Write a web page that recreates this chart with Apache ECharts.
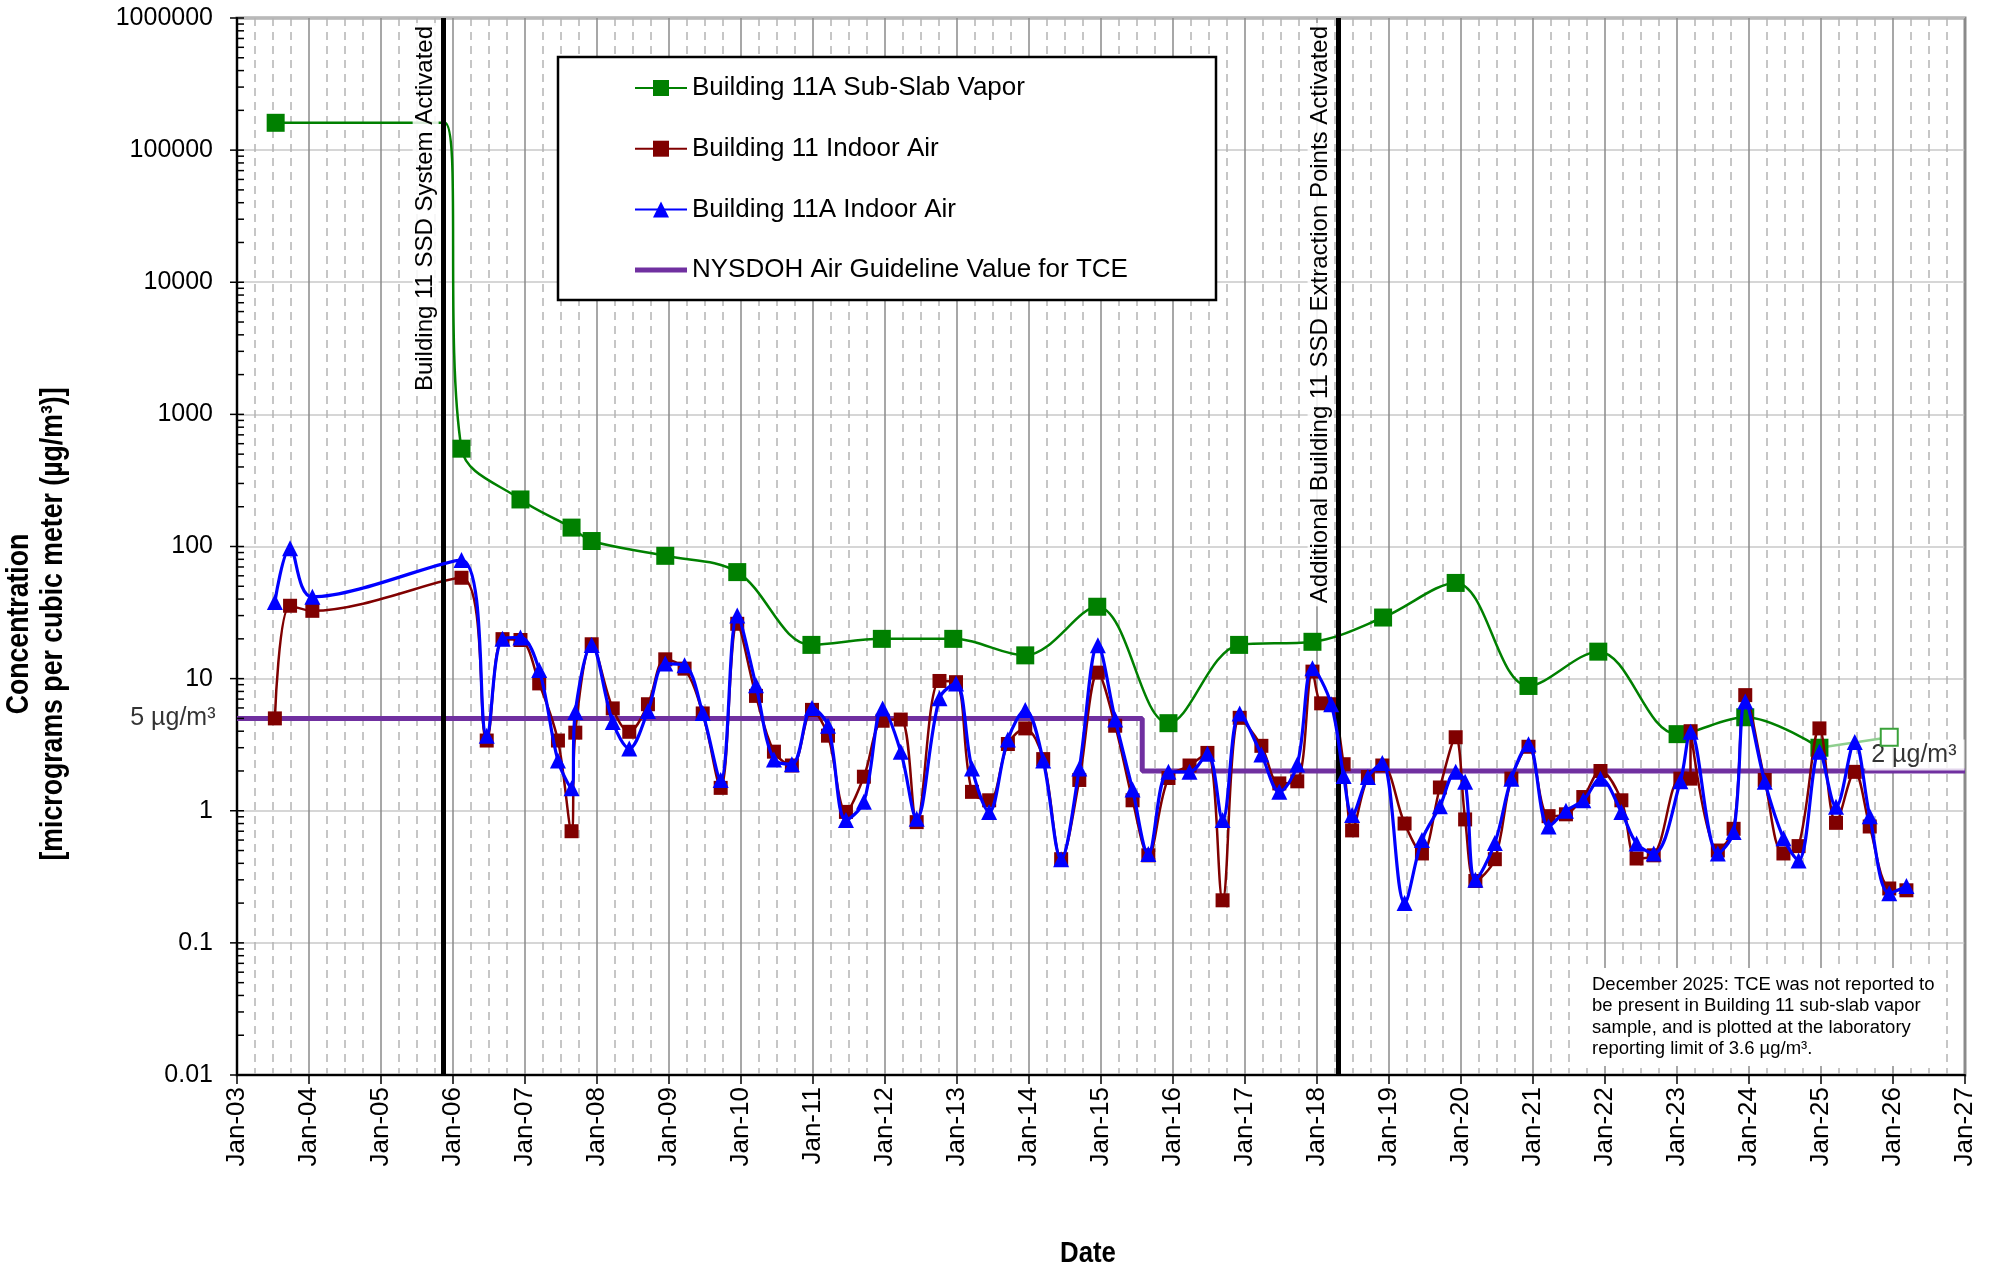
<!DOCTYPE html>
<html>
<head>
<meta charset="utf-8">
<script src="https://cdn.jsdelivr.net/npm/echarts@6/dist/echarts.min.js"></script>
<style>
html,body{margin:0;padding:0;background:#fff;}
#chart{width:1996px;height:1271px;}
</style>
</head>
<body>
<div id="chart"></div>
<script>
// ---------------- DATA ----------------
const seriesNames = ['Building 11A Sub-Slab Vapor', 'Building 11 Indoor Air', 'Building 11A Indoor Air', 'NYSDOH Air Guideline Value for TCE'];

// Building 11A sub-slab vapor (µg/m³)
const subSlabDates  = ['2003-07-16','2005-11-20','2006-02-13','2006-12-09','2007-08-25','2007-12-05','2008-12-13','2009-12-13','2010-12-24','2011-12-16','2012-12-13','2013-12-13','2014-12-13','2015-12-09','2016-12-02','2017-12-09','2018-12-02','2019-12-05','2020-12-09','2021-11-28','2023-01-04','2023-12-13','2024-12-24'];
const subSlabValues = [161000, 161000, 550, 227, 139, 110, 85, 64, 18, 20, 20, 15, 35, 4.6, 18, 19, 29, 53, 8.8, 16, 3.8, 5.1, 3.0];
const subSlabUnmarkedDates = ['2005-11-20'];
// December 2025 sample plotted at reporting limit
const subSlabEstimateDate = '2025-12-13';
const subSlabEstimateValue = 3.6;

// Indoor air sampling dates (shared)
const indoorDates = ['2003-07-12','2003-09-27','2004-01-18','2006-02-13','2006-06-21','2006-09-09','2006-12-09','2007-03-14','2007-06-17','2007-08-25','2007-09-13','2007-12-05',
 '2008-03-21','2008-06-13','2008-09-16','2008-12-13','2009-03-21','2009-06-21','2009-09-20','2009-12-13','2010-03-18','2010-06-17','2010-09-16','2010-12-27',
 '2011-03-18','2011-06-17','2011-09-16','2011-12-20','2012-03-21','2012-06-10','2012-10-04','2012-12-27','2013-03-18','2013-06-13','2013-09-16','2013-12-13',
 '2014-03-14','2014-06-13','2014-09-13','2014-12-16','2015-03-14','2015-06-10','2015-08-29','2015-12-09','2016-03-25','2016-06-24','2016-09-09','2016-12-05',
 '2017-03-25','2017-06-24','2017-09-23','2017-12-09','2018-01-22','2018-03-14','2018-05-16','2018-06-28','2018-09-16','2018-11-28','2019-03-21','2019-06-17',
 '2019-09-16','2019-12-05','2020-01-22','2020-03-14','2020-06-21','2020-09-13','2020-12-09','2021-03-21','2021-06-17','2021-09-13','2021-12-09','2022-03-25',
 '2022-06-10','2022-09-05','2023-01-18','2023-03-10','2023-03-11','2023-07-27','2023-10-15','2023-12-13','2024-03-21','2024-06-24','2024-09-09','2024-12-24',
 '2025-03-18','2025-06-21','2025-09-05','2025-12-13','2026-03-10'];
const bldg11IndoorAir = [5.0, 35.6, 32.6, 58, 3.4, 19.9, 19.6, 9.2, 3.4, 0.70, 3.9, 18.2,
 5.95, 3.96, 6.4, 14.0, 11.9, 5.45, 1.49, 26, 7.4, 2.8, 2.2, 5.8,
 3.7, 0.98, 1.81, 4.8, 4.9, 0.82, 9.6, 9.4, 1.39, 1.20, 3.2, 4.2,
 2.46, 0.43, 1.71, 11.1, 4.4, 1.20, 0.46, 1.77, 2.2, 2.74, 0.21, 5.05,
 3.1, 1.61, 1.67, 11.3, 6.5, 6.4, 2.25, 0.71, 1.8, 2.2, 0.80, 0.475,
 1.50, 3.6, 0.86, 0.294, 0.43, 1.75, 3.05, 0.91, 0.94, 1.27, 2.0, 1.20,
 0.435, 0.46, 1.75, 1.75, 4.0, 0.50, 0.73, 7.5, 1.71, 0.475, 0.54, 4.2,
 0.81, 1.97, 0.76, 0.258, 0.25];
const bldg11AIndoorAir = [38, 97, 41.6, 79, 3.7, 20, 20.5, 11.6, 2.4, 1.48, 5.6, 18,
 4.7, 2.96, 5.7, 13.0, 12.6, 5.5, 1.71, 30, 8.9, 2.44, 2.25, 6.0,
 4.4, 0.85, 1.17, 5.95, 2.8, 0.87, 7.1, 9.2, 2.09, 0.98, 3.46, 5.8,
 2.4, 0.43, 2.09, 17.9, 4.9, 1.45, 0.47, 1.97, 1.97, 2.7, 0.85, 5.45,
 2.67, 1.39, 2.24, 12, null, 6.4, 1.83, 0.93, 1.8, 2.3, 0.20, 0.60,
 1.08, 1.97, 1.66, 0.30, 0.57, 1.75, 3.19, 0.76, 1.0, 1.20, 1.75, 0.98,
 0.565, 0.475, 1.67, null, 3.96, 0.475, 0.69, 6.7, 1.66, 0.62, 0.42, 2.8,
 1.07, 3.32, 0.91, 0.237, 0.27];

// NYSDOH guideline (step)
const guidelineDates  = ['2003-01-01', '2015-07-29', '2015-07-29', '2027-01-01'];
const guidelineValues = [5, 5, 2, 2];
const guidelineLabels = ['5 µg/m³', '2 µg/m³'];

// Events
const eventDates  = ['2005-11-14', '2018-04-22'];
const eventLabels = ['Building 11 SSD System Activated', 'Additional Building 11 SSD Extraction Points Activated'];

// Axes
const xMinYear = 2003, xMaxYear = 2027;
const yTickLabels = ['0.01','0.1','1','10','100','1000','10000','100000','1000000'];
const yMinorMultipliers = [2,3,4,5,6,7,8,9];

const noteText = 'December 2025: TCE was not reported to\nbe present in Building 11 sub-slab vapor\nsample, and is plotted at the laboratory\nreporting limit of 3.6 µg/m³.';

// ---------------- HELPERS ----------------
function toYear(s) {
  const [y, m, d] = s.split('-').map(Number);
  const t0 = Date.UTC(y, 0, 1), t1 = Date.UTC(y + 1, 0, 1);
  return y + (Date.UTC(y, m - 1, d) - t0) / (t1 - t0);
}
const FONT = "'Liberation Sans', Arial, sans-serif";

const greenData = subSlabDates.map((d, i) => {
  const p = [toYear(d), subSlabValues[i]];
  return subSlabUnmarkedDates.includes(d) ? { value: p, symbol: 'none' } : p;
});
const lastG = subSlabDates.length - 1;
const greenEstData = [
  { value: [toYear(subSlabDates[lastG]), subSlabValues[lastG]], symbol: 'none' },
  [toYear(subSlabEstimateDate), subSlabEstimateValue]
];
const redData = indoorDates.map((d, i) => [toYear(d), bldg11IndoorAir[i]]).filter(p => p[1] != null);
const blueData = indoorDates.map((d, i) => [toYear(d), bldg11AIndoorAir[i]]).filter(p => p[1] != null);
const guideData = guidelineDates.map((d, i) => [toYear(d), guidelineValues[i]]);

const tickData = [];
yTickLabels.forEach((t, i) => {
  const v = parseFloat(t);
  tickData.push([xMinYear, v, 1]);
  if (i < yTickLabels.length - 1) yMinorMultipliers.forEach(m => tickData.push([xMinYear, v * m, 0]));
});

// ---------------- CHART ----------------
const chart = echarts.init(document.getElementById('chart'), null, { renderer: 'canvas' });
const option = {
  animation: false,
  backgroundColor: '#fff',
  textStyle: { fontFamily: FONT },
  grid: { left: 237, right: 31, top: 18, bottom: 196, show: true, borderColor: '#8c8c8c', borderWidth: 3, backgroundColor: 'transparent', outerBoundsMode: 'none', containLabel: false },
  xAxis: {
    type: 'value', min: xMinYear, max: xMaxYear, interval: 1,
    axisLine: { show: true, lineStyle: { color: '#000', width: 2 } },
    axisTick: { show: true, length: 9, lineStyle: { color: '#000', width: 1.5 } },
    axisLabel: { rotate: 90, margin: 12, fontSize: 26, color: '#000', fontFamily: FONT,
      formatter: v => 'Jan-' + String(Math.round(v)).slice(2) },
    splitLine: { show: true, lineStyle: { color: '#8a8a8a', width: 1.5 } },
    minorTick: { show: false, splitNumber: 4 },
    minorSplitLine: { show: true, lineStyle: { color: '#b4b4b4', width: 1.5, type: [8, 6] } }
  },
  yAxis: {
    type: 'log', logBase: 10, min: 0.01, max: 1000000,
    axisLine: { show: true, lineStyle: { color: '#000', width: 2 } },
    axisTick: { show: false },
    axisLabel: { margin: 24, fontSize: 25, color: '#000', fontFamily: FONT,
      formatter: v => { const e = Math.round(Math.log10(v)); return yTickLabels[e + 2]; } },
    splitLine: { show: true, lineStyle: { color: '#c8c8c8', width: 1.5 } }
  },
  legend: {
    data: [seriesNames[0], seriesNames[1], seriesNames[2], { name: seriesNames[3], icon: 'path://M0 0H52V5H0Z' }],
    orient: 'vertical', left: 629, top: 70, itemWidth: 52, itemHeight: 20, itemGap: 34.7, symbolKeepAspect: true,
    textStyle: { fontSize: 26, color: '#000', fontFamily: FONT, lineHeight: 26 },
    selectedMode: false, z: 10
  },
  graphic: [
    { type: 'rect', z: 8, shape: { x: 558, y: 57, width: 658, height: 243 }, style: { fill: '#fff', stroke: '#000', lineWidth: 2.5 } },
    { type: 'text', z: 8, left: 1586, top: 968, style: { text: noteText, font: '18.5px ' + FONT, lineHeight: 21.5, fill: '#000', backgroundColor: '#fff', padding: [6, 10, 6, 6] } },
    { type: 'text', z: 8, x: 36.5, y: 624, rotation: Math.PI / 2, scaleX: 0.86,
      style: { text: 'Concentration\n[micrograms per cubic meter (µg/m³)]', font: 'bold 31px ' + FONT, lineHeight: 34, fill: '#000', textAlign: 'center', textVerticalAlign: 'middle' } },
    { type: 'text', z: 8, x: 1088, y: 1254, scaleX: 0.86, style: { text: 'Date', font: 'bold 30px ' + FONT, fill: '#000', textAlign: 'center', textVerticalAlign: 'middle' } }
  ],
  series: [
    { name: seriesNames[3], type: 'line', data: guideData, symbol: 'none', z: 2, silent: true,
      lineStyle: { color: '#7030A0', width: 5 }, itemStyle: { color: '#7030A0' } },
    { name: 'guideLabels', type: 'scatter', z: 2, silent: true, symbolSize: 1, itemStyle: { color: 'rgba(0,0,0,0)' },
      data: [
        { value: guideData[0], label: { show: true, formatter: guidelineLabels[0], position: 'left', distance: 21, fontSize: 25, color: '#000', fontFamily: FONT } },
        { value: guideData[guideData.length - 1], label: { show: true, formatter: guidelineLabels[1], position: 'left', distance: 0, offset: [0, -16], fontSize: 25, color: '#000', fontFamily: FONT, backgroundColor: '#fff', padding: [3, 8, 3, 6] } }
      ] },
    { name: seriesNames[0], type: 'line', data: greenData, smooth: 0.35, symbol: 'rect', symbolSize: 18, z: 3, silent: true,
      lineStyle: { color: '#008000', width: 2.5 }, itemStyle: { color: '#008000', borderWidth: 0 } },
    { name: 'estimate', type: 'line', data: greenEstData, symbol: 'rect', symbolSize: 17, z: 3, silent: true,
      lineStyle: { color: '#8fcf8f', width: 2.5 }, itemStyle: { color: '#fff', borderColor: '#3aa23a', borderWidth: 2 } },
    { name: seriesNames[1], type: 'line', data: redData, smooth: 0.35, symbol: 'rect', symbolSize: 14, z: 4, silent: true,
      lineStyle: { color: '#800000', width: 2.5 }, itemStyle: { color: '#800000', borderWidth: 0 } },
    { name: seriesNames[2], type: 'line', data: blueData, smooth: 0.35, symbol: 'triangle', symbolSize: 16, z: 5, silent: true,
      lineStyle: { color: '#0000FF', width: 3.2 }, itemStyle: { color: '#0000FF', borderWidth: 0 } },
    { name: 'events', type: 'scatter', z: 6, silent: true, symbolSize: 0, data: [],
      markLine: {
        silent: true, symbol: ['none', 'none'], animation: false,
        lineStyle: { color: '#000', width: 5, type: 'solid' },
        label: { show: true, position: 'insideEndTop', distance: 5, fontSize: 24, color: '#000', fontFamily: FONT, backgroundColor: 'rgba(255,255,255,0.85)', padding: [1, 3] },
        emphasis: { disabled: true },
        data: eventDates.map((d, i) => ({ xAxis: toYear(d), label: { formatter: eventLabels[i] } }))
      }
    },
    { name: 'yticks', type: 'custom', z: 6, silent: true, clip: false, data: tickData,
      renderItem: (params, api) => {
        const p = api.coord([api.value(0), api.value(1)]);
        const major = api.value(2) === 1;
        return { type: 'line', shape: { x1: p[0] - (major ? 7 : 0), y1: p[1], x2: p[0] + 7, y2: p[1] }, style: { stroke: '#000', lineWidth: 1.5 } };
      } }
  ]
};
chart.setOption(option);
</script>
</body>
</html>
